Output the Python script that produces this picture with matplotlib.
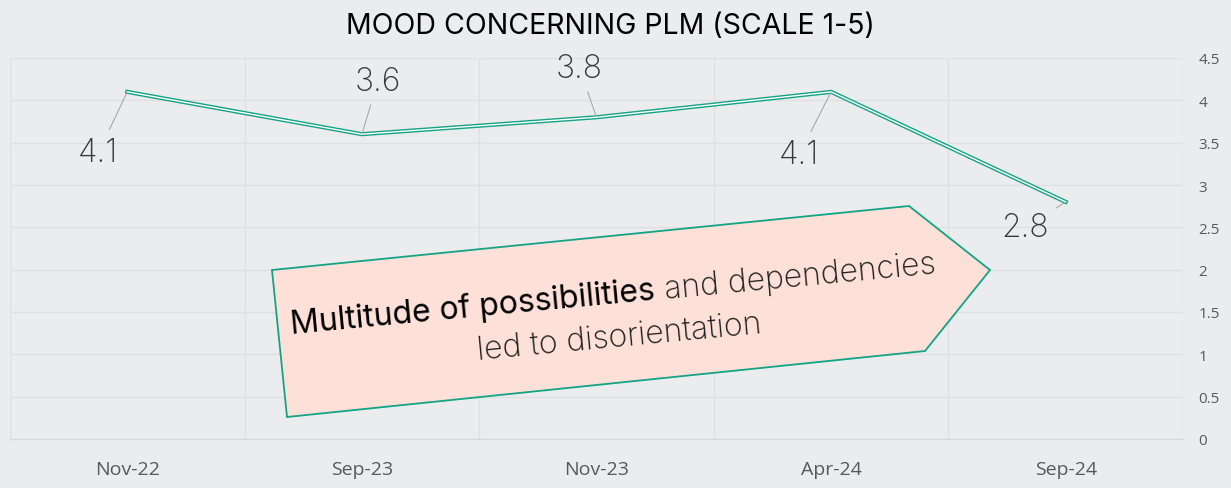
import matplotlib
matplotlib.use("Agg")
import matplotlib.pyplot as plt
import numpy as np
from matplotlib.patches import Polygon

# data
months = ["Nov-22", "Sep-23", "Nov-23", "Apr-24", "Sep-24"]
mood = [4.1, 3.6, 3.8, 4.1, 2.8]
y_ticks = [0, 0.5, 1, 1.5, 2, 2.5, 3, 3.5, 4, 4.5]
y_tick_labels = ["0", "0.5", "1", "1.5", "2", "2.5", "3", "3.5", "4", "4.5"]
# label offsets (pixels) from each point
label_offsets = [(-29, -61), (16, 53), (-17, 49), (-32, -63), (-41, -26)]

title = "MOOD CONCERNING PLM (SCALE 1-5)"
callout_bold = "Multitude of possibilities"
callout_rest = "and dependencies"
callout_line2 = "led to disorientation"

bg = "#ebeced"
green = "#13a387"
grid_c = "#dfe0e2"
tick_c = "#595959"

fig = plt.figure(figsize=(12.31, 4.89), dpi=100)
fig.patch.set_facecolor(bg)

W, H = 1231, 489
ax = fig.add_axes([10 / W, 49 / H, 1173 / W, 381 / H])
ax.set_facecolor(bg)

x = np.arange(len(months))
ax.plot(x, mood, color=green, lw=3.0, solid_joinstyle="miter", zorder=3)
ax.plot(x, mood, color="white", lw=1.0, solid_joinstyle="miter", zorder=4)

ax.set_xlim(-0.5, len(months) - 0.5)
ax.set_ylim(0, 4.5)
ax.set_xticks(x)
ax.set_xticklabels(months, fontsize=14, color=tick_c, family=["Open Sans", "DejaVu Sans"])
ax.set_xticks(np.arange(-0.5, len(months), 1.0), minor=True)
ax.set_yticks(y_ticks)
ax.set_yticklabels(y_tick_labels, fontsize=11, color=tick_c, family=["Open Sans", "DejaVu Sans"], ha="left")
ax.yaxis.tick_right()
ax.tick_params(axis="y", length=0, pad=11)
ax.tick_params(axis="x", which="both", length=0, pad=15)
ax.grid(axis="y", color=grid_c, lw=1)
ax.grid(axis="x", which="minor", color=grid_c, lw=1)
ax.grid(axis="x", which="major", visible=False)
for s in ["top", "left", "right"]:
    ax.spines[s].set_visible(False)
ax.spines["bottom"].set_color("#d6d7d9")
ax.set_axisbelow(True)

for i, v in enumerate(mood):
    dx, dy = label_offsets[i]
    ax.annotate(f"{v}", xy=(i, v), xytext=(dx, dy), textcoords="offset pixels",
                ha="center", va="center", fontsize=23, fontweight="light",
                color="#383838", family=["Inter", "DejaVu Sans"],
                arrowprops=dict(arrowstyle="-", color="#a9a9a9", lw=0.8,
                                shrinkA=4, shrinkB=1), zorder=5)

# overlay in pixel coordinates for title and callout
ov = fig.add_axes([0, 0, 1, 1], zorder=10)
ov.set_xlim(0, W)
ov.set_ylim(H, 0)
ov.axis("off")

ov.text(610, 26, title, ha="center", va="center", fontsize=20.5, color="black",
        family=["Inter", "DejaVu Sans"])

shape = Polygon([(272, 271), (909, 207), (990, 271), (925, 352), (287, 418)],
                closed=True, facecolor="#fde1d9", edgecolor=green, lw=1.3)
ov.add_patch(shape)

ang = 5.4
u = np.array([np.cos(np.radians(ang)), -np.sin(np.radians(ang))])
fs = 23
fam = ["Inter", "DejaVu Sans"]
r = fig.canvas.get_renderer()


def width(s, **kw):
    t = ov.text(0, 0, s, fontsize=fs, family=fam, **kw)
    w = t.get_window_extent(r).width
    t.remove()
    return w


w_a = width(callout_bold)
w_sp = width("a a", fontweight="light") - width("aa", fontweight="light")
w_b = width(callout_rest, fontweight="light")
total = w_a + w_sp + w_b
c1 = np.array([614, 304])
start = c1 - u * total / 2
ov.text(start[0], start[1], callout_bold, fontsize=fs, family=fam, color="black",
        ha="left", va="baseline", rotation=ang, rotation_mode="anchor")
p2 = start + u * (w_a + w_sp)
ov.text(p2[0], p2[1], callout_rest, fontsize=fs, family=fam, color="#1e1e1e",
        fontweight="light", ha="left", va="baseline", rotation=ang, rotation_mode="anchor")
ov.text(620, 346, callout_line2, fontsize=fs, family=fam, color="#1e1e1e",
        fontweight="light", ha="center", va="baseline", rotation=ang, rotation_mode="anchor")

fig.savefig("out.png", dpi=100, facecolor=bg)
